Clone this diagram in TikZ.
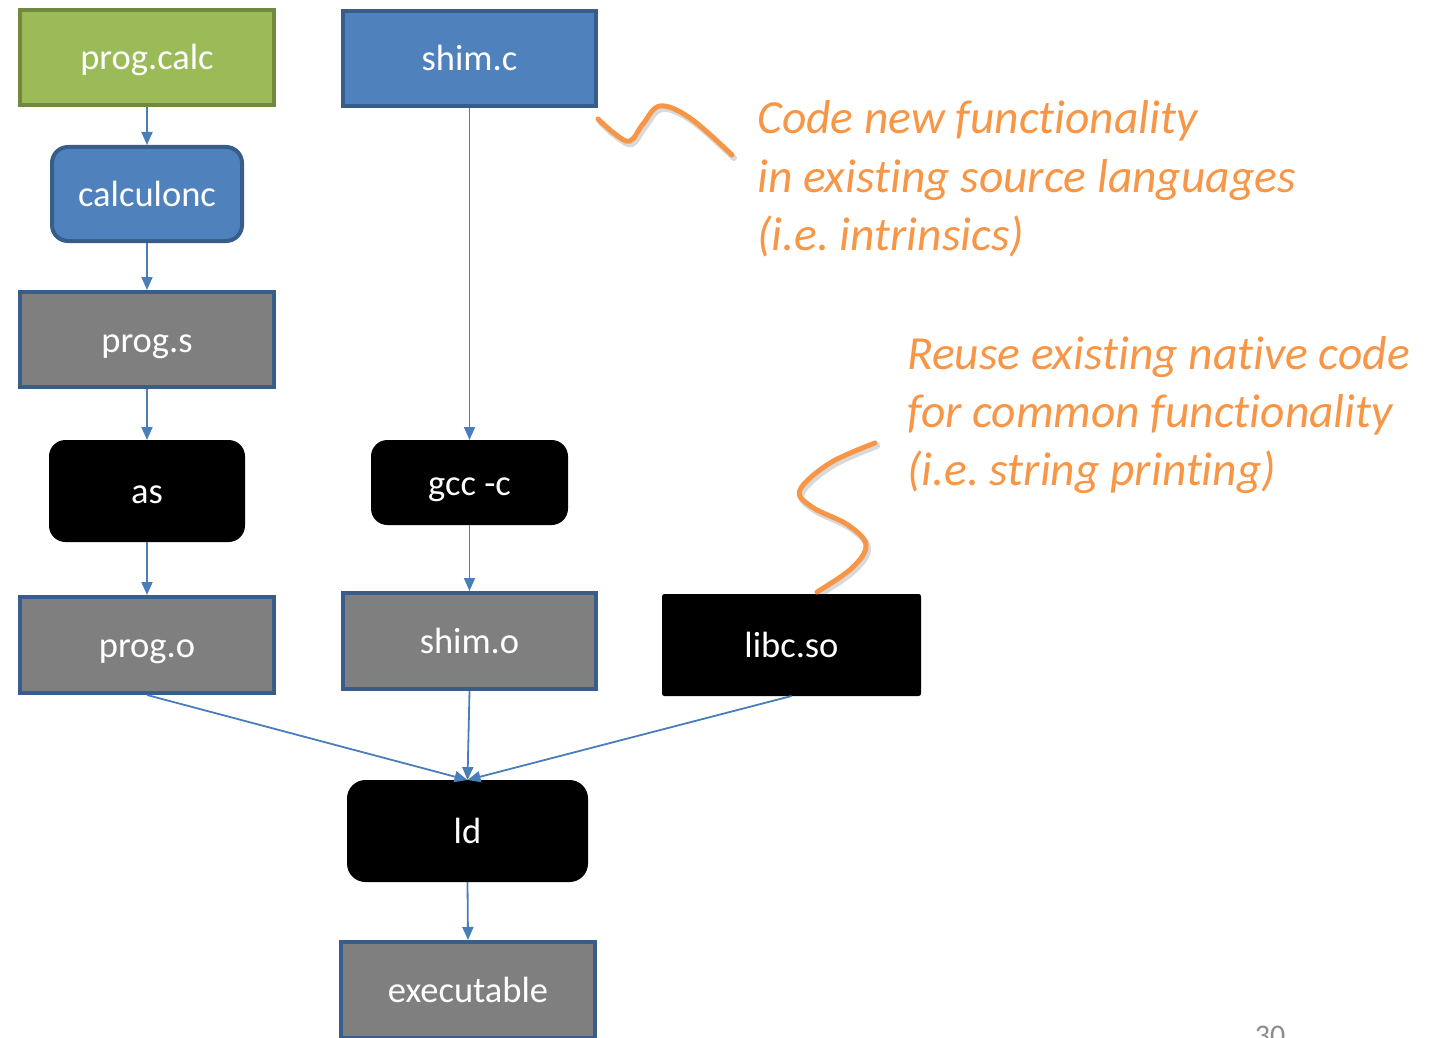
\documentclass[tikz,border=0pt]{standalone}
\usepackage{fontspec}
\setmainfont{Carlito}[RawFeature={-liga;-clig;-dlig}]
\frenchspacing
\usetikzlibrary{arrows.meta}
\definecolor{gfill}{HTML}{9BBB59}
\definecolor{gborder}{HTML}{71893F}
\definecolor{bfill}{HTML}{4F81BD}
\definecolor{bborder}{HTML}{385D8A}
\definecolor{grayfill}{HTML}{7F7F7F}
\definecolor{orangec}{HTML}{F79646}
\definecolor{arrowc}{HTML}{4A7EBB}
\definecolor{pagenum}{HTML}{8C8C8C}
\tikzset{
  box/.style={draw, line width=4pt, text=white, inner sep=0pt,
    text height=25pt, text depth=0pt,
    font=\fontsize{36.5}{43}\selectfont},
  greenbox/.style={box, fill=gfill, draw=gborder},
  bluebox/.style={box, fill=bfill, draw=bborder},
  graybox/.style={box, fill=grayfill, draw=bborder},
  blackbox/.style={box, fill=black, draw=black, line width=1pt},
  flow/.style={draw=arrowc, line width=1.8pt, -{Triangle[length=13pt,width=11pt]}},
  callout/.style={text=orangec, inner sep=0pt, anchor=base west,
    font=\fontsize{47.5}{58}\selectfont\itshape},
  squiggle/.style={draw=orangec, line width=5pt, line cap=round},
  squiggleshadow/.style={draw=black, opacity=0.15, line width=6pt, line cap=round},
}
\begin{document}
\begin{tikzpicture}[x=1pt,y=-1pt]
\useasboundingbox (0,0) rectangle (1440,1038);
\clip (0,0) rectangle (1440,1038);

% nodes
\node[greenbox, minimum width=254pt, minimum height=95pt] (calc) at (147,57.5) {prog.calc};
\node[bluebox, minimum width=253pt, minimum height=95pt] (shimc) at (469.5,58.5) {shim.c};
\node[bluebox, rounded corners=16pt, minimum width=190pt, minimum height=94pt] (calculonc) at (147,194) {calculonc};
\node[graybox, minimum width=254pt, minimum height=95pt] (progs) at (147,339.5) {prog.s};
\node[blackbox, rounded corners=16pt, minimum width=195pt, minimum height=101pt] (as) at (147,491) {as};
\node[blackbox, rounded corners=16pt, minimum width=196pt, minimum height=84pt] (gcc) at (469.5,482.5) {gcc -c};
\node[graybox, minimum width=254pt, minimum height=96pt] (progo) at (147,645) {prog.o};
\node[graybox, minimum width=253pt, minimum height=96pt] (shimo) at (469.5,641) {shim.o};
\node[blackbox, rounded corners=2pt, minimum width=258pt, minimum height=101pt] (libc) at (791.5,645) {libc.so};
\node[blackbox, rounded corners=18pt, minimum width=240pt, minimum height=101pt] (ld) at (467.5,831) {ld};
\node[graybox, minimum width=254pt, minimum height=96pt] (exe) at (468,990) {executable};

% connectors
\draw[flow] (calc.south) -- (calculonc.north);
\draw[flow] (calculonc.south) -- (progs.north);
\draw[flow] (progs.south) -- (as.north);
\draw[flow] (as.south) -- (progo.north);
\draw[flow] (shimc.south) -- (gcc.north);
\draw[flow] (gcc.south) -- (shimo.north);
\draw[flow] (progo.south) -- (ld.north);
\draw[flow] (shimo.south) -- (ld.north);
\draw[flow] (libc.south) -- (ld.north);
\draw[flow] (ld.south) -- (exe.north);

% callout texts
\node[callout] (t1a) at (757,134) {Code new functionality};
\node[callout] (t1b) at (757,192) {in existing source languages};
\node[callout] (t1c) at (757,250) {(i.e. intrinsics)};
\node[callout] (t2a) at (907,369) {Reuse existing native code};
\node[callout] (t2b) at (907,427) {for common functionality};
\node[callout] (t2c) at (907,485) {(i.e. string printing)};

% squiggles
\draw[squiggleshadow, xshift=2pt, yshift=-3pt] plot[smooth, tension=0.6] coordinates
  {(598,119) (615,134) (630,141) (643,124) (660,106) (690,118) (732,155)};
\draw[squiggle] plot[smooth, tension=0.6] coordinates
  {(598,119) (615,134) (630,141) (643,124) (660,106) (690,118) (732,155)};
\draw[squiggleshadow, xshift=2pt, yshift=-3pt] plot[smooth, tension=0.6] coordinates
  {(875,443) (830,463) (800,490) (812,507) (848,525) (866,545) (852,568) (817,592)};
\draw[squiggle] plot[smooth, tension=0.6] coordinates
  {(875,443) (830,463) (800,490) (812,507) (848,525) (866,545) (852,568) (817,592)};

% page number
\node[text=pagenum, inner sep=0pt, anchor=base, font=\fontsize{30}{36}\selectfont] (pnum) at (1270,1045) {30};
\end{tikzpicture}
\end{document}
